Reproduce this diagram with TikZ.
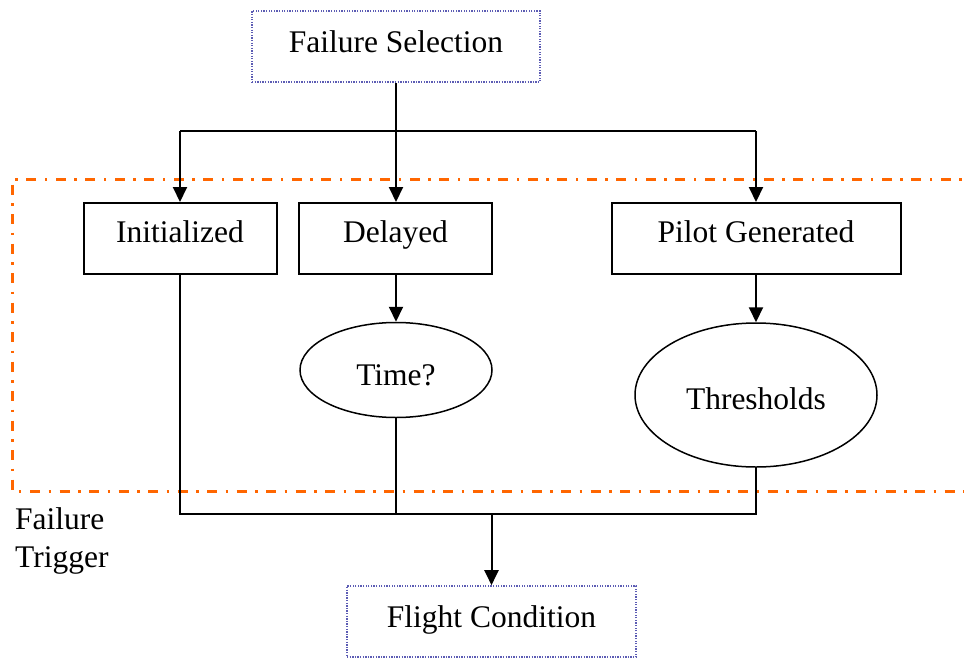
\documentclass[tikz,border=0pt]{standalone}
\usepackage{fontspec}
\setmainfont{Liberation Serif}
\usetikzlibrary{arrows.meta,shapes.geometric}
\definecolor{trigorange}{RGB}{255,102,0}
\definecolor{dotblue}{RGB}{92,92,180}
\begin{document}
\begin{tikzpicture}[x=1pt,y=-1pt,
  every node/.style={font=\fontsize{31.5}{38}\selectfont, inner sep=0pt},
  stepbox/.style={draw=black, line width=2pt, rectangle, minimum width=193pt, minimum height=71pt,
    text height=22pt, text depth=15pt},
  endbox/.style={draw=dotblue, line width=1.6pt, dash pattern=on 1.3pt off 1.3pt, rectangle, minimum height=71pt,
    text height=22pt, text depth=11pt},
  decision/.style={draw=black, line width=1.5pt, ellipse},
  link/.style={draw=black, line width=2pt},
  arrowlink/.style={link, -{Triangle[length=15pt,width=14pt]}},
  triggerframe/.style={draw=trigorange, line width=3pt, dash pattern=on 10pt off 8.5pt on 2.5pt off 8.5pt}
]
\useasboundingbox (0,0) rectangle (964,659);
\clip (0,0) rectangle (964,659);

% failure trigger group frame (open on the right)
\draw[triggerframe] (980,179) -- (12,179) -- (12,491) -- (980,491);

% nodes
\node[endbox, minimum width=288pt] (fs) at (396,46.5) {Failure Selection};
\node[stepbox] (init) at (180,238.5) {Initialized};
\node[stepbox] (delayed) at (395.5,238.5) {Delayed};
\node[stepbox, minimum width=289pt] (pilot) at (756,238.5) {Pilot Generated};
\node[decision, minimum width=192pt, minimum height=95pt, text height=36pt, text depth=6pt] (time) at (396,370) {Time?};
\node[decision, minimum width=242pt, minimum height=144pt, text height=35pt, text depth=7pt] (thr) at (756,395) {Thresholds};
\node[endbox, minimum width=289pt] (fc) at (491.5,621.5) {Flight Condition};
\node[anchor=north west, align=left] (trig) at (15,507.5) {Failure\\Trigger};

% distribution from the failure selection
\coordinate (split) at (396,131);
\draw[link] (init.north |- split) -- (pilot.north |- split);
\draw[arrowlink] (fs.south) -- (delayed.north -| fs.south);
\draw[arrowlink] (init.north |- split) -- (init.north);
\draw[arrowlink] (pilot.north |- split) -- (pilot.north);

% trigger checks
\draw[arrowlink] (delayed.south -| time.north) -- (time.north);
\draw[arrowlink] (pilot.south -| thr.north) -- (thr.north);

% merge into the flight condition
\coordinate (merge) at (491.5,514);
\draw[link] (init.south) |- (thr.south |- merge) -- (thr.south);
\draw[link] (time.south) -- (time.south |- merge);
\draw[arrowlink] (fc.north |- merge) -- (fc.north);
\end{tikzpicture}
\end{document}
